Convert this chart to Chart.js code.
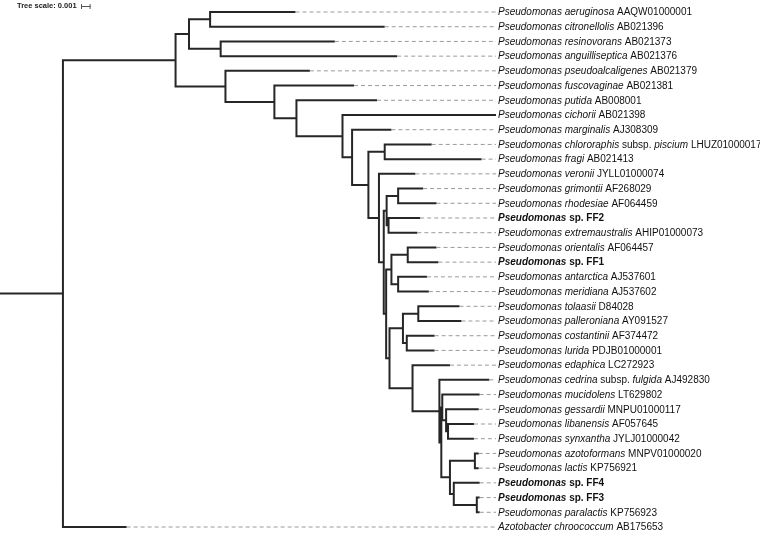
<!DOCTYPE html>
<html>
<head>
<meta charset="utf-8">
<script src="https://cdn.jsdelivr.net/npm/chart.js@4.4.0/dist/chart.umd.min.js"></script>
<style>
  body { margin: 0; background: #fff; }
  #tree { display: block; }
</style>
</head>
<body>
<canvas id="tree" width="760" height="537"></canvas>
<script>
// leaf labels, top to bottom ( _italic_ , leading * = bold )
const taxa = [
  '_Pseudomonas aeruginosa_ AAQW01000001',
  '_Pseudomonas citronellolis_ AB021396',
  '_Pseudomonas resinovorans_ AB021373',
  '_Pseudomonas anguilliseptica_ AB021376',
  '_Pseudomonas pseudoalcaligenes_ AB021379',
  '_Pseudomonas fuscovaginae_ AB021381',
  '_Pseudomonas putida_ AB008001',
  '_Pseudomonas cichorii_ AB021398',
  '_Pseudomonas marginalis_ AJ308309',
  '_Pseudomonas chlororaphis_ subsp. _piscium_ LHUZ01000017',
  '_Pseudomonas fragi_ AB021413',
  '_Pseudomonas veronii_ JYLL01000074',
  '_Pseudomonas grimontii_ AF268029',
  '_Pseudomonas rhodesiae_ AF064459',
  '*_Pseudomonas_ sp. FF2',
  '_Pseudomonas extremaustralis_ AHIP01000073',
  '_Pseudomonas orientalis_ AF064457',
  '*_Pseudomonas_ sp. FF1',
  '_Pseudomonas antarctica_ AJ537601',
  '_Pseudomonas meridiana_ AJ537602',
  '_Pseudomonas tolaasii_ D84028',
  '_Pseudomonas palleroniana_ AY091527',
  '_Pseudomonas costantinii_ AF374472',
  '_Pseudomonas lurida_ PDJB01000001',
  '_Pseudomonas edaphica_ LC272923',
  '_Pseudomonas cedrina_ subsp. _fulgida_ AJ492830',
  '_Pseudomonas mucidolens_ LT629802',
  '_Pseudomonas gessardii_ MNPU01000117',
  '_Pseudomonas libanensis_ AF057645',
  '_Pseudomonas synxantha_ JYLJ01000042',
  '_Pseudomonas azotoformans_ MNPV01000020',
  '_Pseudomonas lactis_ KP756921',
  '*_Pseudomonas_ sp. FF4',
  '*_Pseudomonas_ sp. FF3',
  '_Pseudomonas paralactis_ KP756923',
  '_Azotobacter chroococcum_ AB175653'
];

// distance from root of each leaf tip (units of 0.001)
const leafDepth = [30.8, 40.1, 34.9, 41.4, 32.3, 36.9, 39.3, 51.7, 40.8, 45.0,
  50.2, 43.3, 44.1, 45.5, 43.8, 43.5, 45.5, 45.7, 44.5, 44.7,
  47.9, 48.1, 45.3, 45.3, 46.9, 51.0, 50.0, 49.9, 49.4, 49.4,
  49.9, 49.9, 50.0, 50.0, 50.0, 13.2];

// internal nodes: [name, depth, children] (numbers = leaf index)
const nodes = [
  ['root', 6.56, ['I', 35]],
  ['I', 18.3, ['A', 'B']],
  ['A', 19.7, ['A1', 'A2']],
  ['A1', 21.9, [0, 1]],
  ['A2', 23.0, [2, 3]],
  ['B', 23.5, [4, 'B1']],
  ['B1', 28.6, [5, 'B2']],
  ['B2', 30.9, [6, 'B3']],
  ['B3', 35.7, [7, 'B4']],
  ['B4', 36.7, [8, 'B5']],
  ['B5', 38.4, ['B6', 'B7']],
  ['B6', 40.1, [9, 10]],
  ['B7', 39.5, [11, 'B8']],
  ['B8', 40.0, ['C1', 'V']],
  ['C1', 40.3, ['G', 'H']],
  ['G', 41.5, [12, 13]],
  ['H', 40.5, [14, 15]],
  ['V', 40.25, ['E', 'U']],
  ['E', 40.8, ['E1', 'E2']],
  ['E1', 42.5, [16, 17]],
  ['E2', 41.5, [18, 19]],
  ['U', 40.6, ['T', 'K']],
  ['T', 42.0, ['T1', 'T2']],
  ['T1', 43.6, [20, 21]],
  ['T2', 42.4, [22, 23]],
  ['K', 43.0, [24, 'L']],
  ['L', 45.8, [25, 'N']],
  ['N', 46.0, ['M1', 'P']],
  ['M1', 46.1, [26, 'M2']],
  ['M2', 46.5, [27, 'M3']],
  ['M3', 46.7, [28, 29]],
  ['P', 46.9, ['Q', 'R']],
  ['Q', 49.5, [30, 31]],
  ['R', 47.3, [32, 'S']],
  ['S', 49.7, [33, 34]]
];

const scaleLabel = 'Tree scale: 0.001';
const scaleLen = 1;   // 0.001 in depth units
const tipMax = 51.7;

const byName = {};
nodes.forEach(n => byName[n[0]] = n);

const depthOf = c => typeof c === 'number' ? leafDepth[c] : byName[c][1];
const yOf = c => {
  if (typeof c === 'number') return c;
  const kids = byName[c][2];
  return (yOf(kids[0]) + yOf(kids[kids.length - 1])) / 2;
};

// solid branches: one elbow per node, broken by nulls
const branchPts = [];
const gap = { x: null, y: null };
const rootY = yOf('root');
branchPts.push({ x: 0, y: rootY }, { x: nodes[0][1], y: rootY }, gap);
nodes.forEach(([name, d, kids]) => {
  const first = kids[0], last = kids[kids.length - 1];
  branchPts.push(
    { x: depthOf(first), y: yOf(first) },
    { x: d, y: yOf(first) },
    { x: d, y: yOf(last) },
    { x: depthOf(last), y: yOf(last) },
    gap
  );
});

// dashed leaders from tip to label
const leaderPts = [];
leafDepth.forEach((d, i) => {
  if (d < tipMax - 0.3) leaderPts.push({ x: d, y: i }, { x: tipMax, y: i }, gap);
});

const labelPlugin = {
  id: 'tipLabels',
  afterDatasetsDraw(chart) {
    const ctx = chart.ctx;
    const xs = chart.scales.x, ys = chart.scales.y;
    const x0 = xs.getPixelForValue(tipMax) + 2;
    ctx.save();
    ctx.textBaseline = 'middle';
    ctx.fillStyle = '#111';
    taxa.forEach((t, i) => {
      let bold = false;
      if (t[0] === '*') { bold = true; t = t.slice(1); }
      const parts = t.split('_');
      let x = x0;
      const y = ys.getPixelForValue(i) + 0.5;
      parts.forEach((p, k) => {
        if (!p) return;
        const ital = k % 2 === 1;
        ctx.font = (ital ? 'italic ' : '') + (bold ? 'bold ' : '') + '10px "Liberation Sans", Arial, sans-serif';
        ctx.fillText(p, x, y);
        x += ctx.measureText(p).width;
      });
    });

    // tree scale
    ctx.font = 'bold 7.5px "Liberation Sans", Arial, sans-serif';
    ctx.fillStyle = '#222';
    ctx.fillText(scaleLabel, 17, 6);
    const bx = 81;
    const bw = xs.getPixelForValue(scaleLen) - xs.getPixelForValue(0);
    ctx.strokeStyle = '#555';
    ctx.lineWidth = 1;
    ctx.beginPath();
    ctx.moveTo(bx, 6.5); ctx.lineTo(bx + bw, 6.5);
    ctx.moveTo(bx + 0.5, 4); ctx.lineTo(bx + 0.5, 9);
    ctx.moveTo(bx + bw - 0.5, 4); ctx.lineTo(bx + bw - 0.5, 9);
    ctx.stroke();
    ctx.restore();
  }
};

new Chart(document.getElementById('tree').getContext('2d'), {
  type: 'scatter',
  data: {
    datasets: [
      {
        label: 'leaders',
        data: leaderPts,
        showLine: true,
        borderColor: '#9a9a9a',
        borderWidth: 1,
        borderDash: [4, 3],
        pointRadius: 0,
        clip: false
      },
      {
        label: 'branches',
        data: branchPts,
        showLine: true,
        borderColor: '#262626',
        borderWidth: 2,
        borderJoinStyle: 'miter',
        pointRadius: 0,
        clip: false
      }
    ]
  },
  options: {
    responsive: false,
    animation: false,
    devicePixelRatio: 1,
    layout: { padding: { left: 0, right: 264, top: 12, bottom: 10 } },
    plugins: { legend: { display: false }, tooltip: { enabled: false } },
    scales: {
      x: { type: 'linear', min: 0, max: tipMax, display: false },
      y: { type: 'linear', min: 0, max: 35, reverse: true, display: false }
    }
  },
  plugins: [labelPlugin]
});
</script>
</body>
</html>
